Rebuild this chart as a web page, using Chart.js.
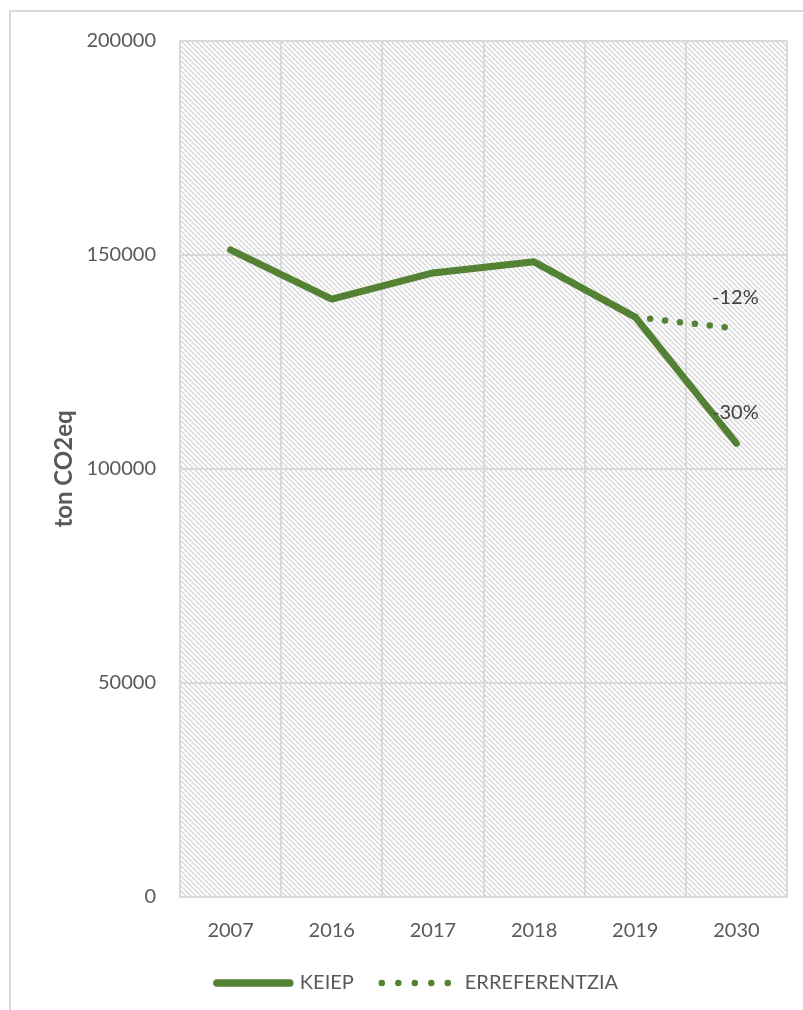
<!DOCTYPE html>
<html>
<head>
<meta charset="utf-8">
<script src="https://cdn.jsdelivr.net/npm/chart.js@4"></script>
<style>
  body { margin: 0; background: #fff; }
  #wrap { width: 803px; height: 1010px; }
</style>
</head>
<body>
<div id="wrap"><canvas id="chart"></canvas></div>
<script>
const years = ['2007', '2016', '2017', '2018', '2019', '2030'];
const keiep = [151200, 139700, 145800, 148400, 135500, 106000];
const erreferentzia = [null, null, null, null, 135500, 132800];
const pctLabels = ['-30%', '-12%'];

const green = '#548235';
const textGrey = '#595959';
const gridGrey = '#d9d9d9';

// diagonal hatch like the excel pattern fill
const tile = document.createElement('canvas');
tile.width = 5;
tile.height = 5;
const tctx = tile.getContext('2d');
tctx.strokeStyle = '#d6d6d6';
tctx.lineWidth = 1.3;
tctx.beginPath();
tctx.moveTo(-1, -1); tctx.lineTo(6, 6);
tctx.moveTo(-1, 4); tctx.lineTo(1, 6);
tctx.moveTo(4, -1); tctx.lineTo(6, 1);
tctx.stroke();

const backgroundPlugin = {
    id: 'background',
    beforeDraw(chart) {
        const { ctx, chartArea } = chart;
        ctx.save();
        // outer frame (only left and top edges visible)
        ctx.strokeStyle = '#d9d9d9';
        ctx.lineWidth = 2;
        ctx.beginPath();
        ctx.moveTo(10, 1010);
        ctx.lineTo(10, 11);
        ctx.lineTo(803, 11);
        ctx.stroke();
        ctx.fillStyle = ctx.createPattern(tile, 'repeat');
        ctx.fillRect(chartArea.left, chartArea.top, chartArea.right - chartArea.left, chartArea.bottom - chartArea.top);
        ctx.restore();
    },
};

const pctPlugin = {
    id: 'pctLabels',
    afterDatasetsDraw(chart) {
        const { ctx } = chart;
        ctx.save();
        ctx.font = '20px Lato';
        ctx.fillStyle = '#404040';
        ctx.textAlign = 'center';
        ctx.textBaseline = 'middle';
        [0, 1].forEach((ds, i) => {
            const meta = chart.getDatasetMeta(ds);
            const pt = meta.data[meta.data.length - 1];
            ctx.fillText(pctLabels[i], pt.x - 1, pt.y - 31);
        });
        ctx.restore();
    },
};

const ctx = document.getElementById('chart').getContext('2d');
new Chart(ctx, {
    type: 'line',
    data: {
        labels: years,
        datasets: [
            {
                label: 'KEIEP',
                data: keiep,
                borderColor: green,
                backgroundColor: green,
                borderWidth: 7,
                borderCapStyle: 'round',
                borderJoinStyle: 'round',
                pointRadius: 0,
                tension: 0,
            }, {
                label: 'ERREFERENTZIA',
                data: erreferentzia,
                borderColor: green,
                backgroundColor: green,
                borderWidth: 6.5,
                borderDash: [0, 15],
                borderCapStyle: 'round',
                pointRadius: 0,
                tension: 0,
            },
        ],
    },
    options: {
        responsive: true,
        maintainAspectRatio: false,
        animation: false,
        layout: {
            padding: { top: 41, right: 16, bottom: 21, left: 48 },
        },
        scales: {
            x: {
                offset: true,
                grid: { color: gridGrey, lineWidth: 2, offset: true, drawTicks: false },
                border: { color: gridGrey, width: 2 },
                ticks: { color: textGrey, font: { family: 'Lato', size: 20 }, padding: 22 },
                afterFit: (scale) => { scale.height = 48; },
            },
            y: {
                min: 0,
                max: 200000,
                ticks: {
                    stepSize: 50000,
                    color: textGrey,
                    font: { family: 'Lato', size: 20 },
                    padding: 24,
                    callback: (v) => String(v),
                },
                grid: { color: gridGrey, lineWidth: 2, drawTicks: false },
                border: { color: gridGrey, width: 2 },
                title: {
                    display: true,
                    text: 'ton CO2eq',
                    color: textGrey,
                    font: { family: 'Lato', size: 24, weight: 'bold' },
                    padding: { top: 2, bottom: 0 },
                },
                afterFit: (scale) => { scale.width = 132; },
            },
        },
        plugins: {
            legend: {
                position: 'bottom',
                maxHeight: 44,
                labels: {
                    color: textGrey,
                    font: { family: 'Lato', size: 20 },
                    usePointStyle: true,
                    pointStyleWidth: 73,
                    boxHeight: 20,
                    padding: 28,
                    generateLabels: (chart) => chart.data.datasets.map((ds, i) => ({
                        text: ds.label,
                        datasetIndex: i,
                        pointStyle: 'line',
                        strokeStyle: green,
                        fillStyle: green,
                        lineWidth: i === 0 ? 7.5 : 6.5,
                        lineCap: 'round',
                        lineDash: i === 0 ? [] : [0, 16.5],
                        fontColor: textGrey,
                    })),
                },
            },
            tooltip: { enabled: false },
        },
    },
    plugins: [backgroundPlugin, pctPlugin],
});
</script>
</body>
</html>
